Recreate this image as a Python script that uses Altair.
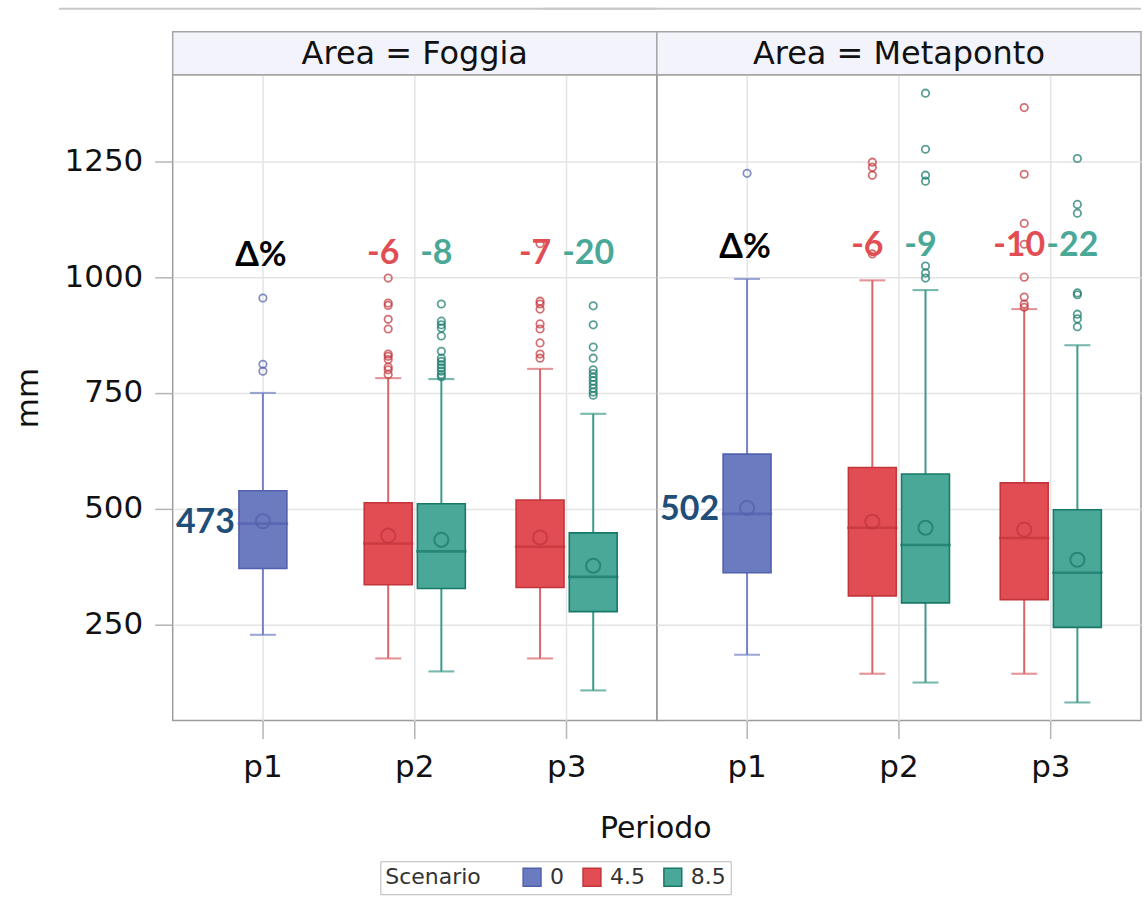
import altair as alt
import pandas as pd

# ---------------- data ----------------
period_order = ["p1", "p2", "p3"]
scenario_order = ["0", "4.5", "8.5"]
offset_order = ["4.5", "0", "8.5"]

box_area = ["Foggia"] * 5 + ["Metaponto"] * 5
box_period = ["p1", "p2", "p2", "p3", "p3"] * 2
box_scen = ["0", "4.5", "8.5", "4.5", "8.5"] * 2
box_lo = [228, 177, 149, 177, 108, 185, 144, 125, 144, 82]
box_q1 = [371, 336, 328, 330, 278, 362, 312, 297, 304, 244]
box_med = [468, 425, 408, 418, 353, 489, 459, 422, 437, 362]
box_mean = [473, 442, 433, 438, 377, 502, 472, 459, 455, 390]
box_q3 = [539, 513, 511, 519, 448, 618, 589, 575, 556, 498]
box_hi = [750, 782, 780, 802, 705, 996, 993, 972, 931, 853]

box_outliers = [
    [955, 812, 797],
    [998, 944, 939, 909, 888, 834, 829, 822, 806, 800, 790],
    [942, 905, 897, 890, 873, 840, 825, 818, 811, 804, 797, 790, 785],
    [1072, 948, 942, 931, 899, 888, 858, 834, 825],
    [938, 897, 849, 825, 800, 792, 784, 776, 768, 760, 752, 745],
    [1224],
    [1248, 1237, 1220, 1050],
    [1397, 1276, 1220, 1207, 1024, 1009, 998],
    [1366, 1222, 1116, 1071, 1000, 957, 942, 935],
    [1256, 1157, 1138, 966, 962, 920, 910, 893],
]

lab_area = ["Foggia"] * 4 + ["Metaponto"] * 4
lab_period = ["p2", "p2", "p3", "p3"] * 2
lab_scen = ["4.5", "8.5", "4.5", "8.5"] * 2
lab_text = ["-6", "-8", "-7", "-20", "-6", "-9", "-10", "-22"]
lab_y = [1050, 1050, 1050, 1050, 1067, 1067, 1067, 1067]

delta_area = ["Foggia", "Metaponto"]
delta_text = ["Δ%", "Δ%"]
delta_y = [1045, 1062]

fill_pal = ["#6a7bbf", "#e24d53", "#4aa898"]
dark_pal = ["#5261ad", "#c2353b", "#17796a"]
light_pal = ["#7383c4", "#d9666a", "#3f9a8b"]

# ---------------- one table for the facet ----------------
rows = []
for i in range(len(box_area)):
    rows.append(dict(kind="box", Area=box_area[i], Periodo=box_period[i], Scenario=box_scen[i],
                     lo=box_lo[i], q1=box_q1[i], med=box_med[i], mean=box_mean[i],
                     q3=box_q3[i], hi=box_hi[i]))
    for v in box_outliers[i]:
        rows.append(dict(kind="out", Area=box_area[i], Periodo=box_period[i],
                         Scenario=box_scen[i], value=v))
for i in range(len(lab_area)):
    rows.append(dict(kind="lab", Area=lab_area[i], Periodo=lab_period[i], Scenario=lab_scen[i],
                     value=lab_y[i], label=lab_text[i]))
for i in range(len(delta_area)):
    rows.append(dict(kind="delta", Area=delta_area[i], Periodo="p1", Scenario="0",
                     value=delta_y[i], label=delta_text[i]))
df = pd.DataFrame(rows)

W, H = 485, 647
ydom = [43, 1437]
FONT = "DejaVu Sans"

x_enc = alt.X("Periodo:N",
              scale=alt.Scale(domain=period_order, paddingInner=0.475, paddingOuter=0.3315),
              axis=alt.Axis(title=None, labelFont=FONT, labelFontSize=31, labelColor="#111111",
                            labelAngle=0, labelPadding=14, tickSize=18, tickColor="#b4b4b4",
                            tickWidth=1.5, domain=False, grid=True, gridColor="#e4e4e4",
                            gridWidth=1.5, bandPosition=0.5))
xo_enc = alt.XOffset("Scenario:N",
                     scale=alt.Scale(domain=offset_order, paddingInner=0, paddingOuter=0))


def yq(field):
    return alt.Y(f"{field}:Q", title="mm",
                 scale=alt.Scale(domain=ydom, nice=False, zero=False),
                 axis=alt.Axis(values=[250, 500, 750, 1000, 1250], format="d",
                               labelFont=FONT,
                               labelFontSize=31, labelColor="#111111", labelPadding=12,
                               tickSize=18, tickColor="#b4b4b4", tickWidth=1.5, domain=False,
                               grid=True, gridColor="#e4e4e4", gridWidth=1.5,
                               titleFont=FONT, titleFontSize=31, titleFontWeight="normal",
                               titleColor="#111111", titlePadding=20))


leg = alt.Legend(title="Scenario", orient="none", legendX=208, legendY=788,
                 direction="horizontal", titleOrient="left")
fill_enc = alt.Fill("Scenario:N", scale=alt.Scale(domain=scenario_order, range=fill_pal),
                    legend=leg)
stroke_enc = alt.Stroke("Scenario:N", scale=alt.Scale(domain=scenario_order, range=dark_pal),
                        legend=leg)
# whisker colours: own scale (listed in another order so it is kept apart from the legend)
light_enc = alt.Color("Scenario:N",
                      scale=alt.Scale(domain=scenario_order[::-1], range=light_pal[::-1]),
                      legend=None)

is_box = alt.datum.kind == "box"
one_per_area = (alt.datum.kind == "box") & (alt.datum.Periodo == "p1")

header_rect = alt.Chart().mark_rect(fill="#f3f4fb", stroke="#a6a6a6", strokeWidth=1.5).encode(
    x=alt.value(0), x2=alt.value(W), y=alt.value(-43), y2=alt.value(0)
).transform_filter(one_per_area)

header_text = alt.Chart().mark_text(font=FONT, fontSize=32, color="#111111",
                                     baseline="middle").encode(
    x=alt.value(W / 2), y=alt.value(-21), text="hdr:N"
).transform_filter(one_per_area).transform_calculate(hdr="'Area = ' + datum.Area")

top_line = alt.Chart().mark_rule(color="#c8c8c8", strokeWidth=2).encode(
    x=alt.value(-114), x2=alt.value(W), y=alt.value(-66)
).transform_filter(one_per_area)

whisk = alt.Chart().mark_rule(strokeWidth=2).encode(
    x=x_enc, xOffset=xo_enc, y=yq("lo"), y2="hi:Q", color=light_enc
).transform_filter(is_box)

cap_lo = alt.Chart().mark_tick(filled=False, thickness=0.1, size=24, strokeWidth=2).encode(
    x=x_enc, xOffset=xo_enc, y=yq("lo"), color=light_enc
).transform_filter(is_box)

cap_hi = alt.Chart().mark_tick(filled=False, thickness=0.1, size=24, strokeWidth=2).encode(
    x=x_enc, xOffset=xo_enc, y=yq("hi"), color=light_enc
).transform_filter(is_box)

boxes = alt.Chart().mark_bar(width=48, strokeWidth=1.6).encode(
    x=x_enc, xOffset=xo_enc, y=yq("q1"), y2="q3:Q", fill=fill_enc, stroke=stroke_enc
).transform_filter(is_box)

median = alt.Chart().mark_tick(filled=False, thickness=0.1, size=48, strokeWidth=2.5).encode(
    x=x_enc, xOffset=xo_enc, y=yq("med"), stroke=stroke_enc
).transform_filter(is_box)

mean = alt.Chart().mark_point(filled=False, size=200, strokeWidth=2).encode(
    x=x_enc, xOffset=xo_enc, y=yq("mean"), stroke=stroke_enc
).transform_filter(is_box)

outl = alt.Chart().mark_point(filled=False, size=55, strokeWidth=1.8).encode(
    x=x_enc, xOffset=xo_enc, y=yq("value"), stroke=stroke_enc
).transform_filter(alt.datum.kind == "out")

labels = alt.Chart().mark_text(font="Lato", fontWeight="bold", fontSize=34, baseline="middle",
                               dx=-5).encode(
    x=x_enc, xOffset=xo_enc, y=yq("value"), text="label:N", fill=fill_enc
).transform_filter(alt.datum.kind == "lab")

delta = alt.Chart().mark_text(font="Lato", fontWeight="bold", fontSize=34, baseline="middle",
                              color="#000000", dx=-2).encode(
    x=x_enc, xOffset=xo_enc, y=yq("value"), text="label:N"
).transform_filter(alt.datum.kind == "delta")

mean_lab = alt.Chart().mark_text(font="Lato", fontWeight="bold", fontSize=34, baseline="middle",
                                 align="right", color="#1f4e79", dx=-28, dy=2).encode(
    x=x_enc, xOffset=xo_enc, y=yq("mean"), text=alt.Text("mean:Q", format="d")
).transform_filter(is_box & (alt.datum.Periodo == "p1"))

panel = alt.layer(top_line, header_rect, header_text, whisk, cap_lo, cap_hi, boxes, median,
                  mean, outl, labels, delta, mean_lab, data=df).properties(width=W, height=H)

chart = panel.facet(
    column=alt.Column("Area:N", sort=["Foggia", "Metaponto"],
                      header=alt.Header(labels=False, title="Periodo", titleOrient="bottom",
                                        titleAlign="left",
                                        titleFont=FONT, titleFontSize=30,
                                        titleFontWeight="normal", titleColor="#111111",
                                        titlePadding=22)),
    spacing=0,
).properties(
    bounds="flush",
    padding={"left": 12, "top": 6, "right": 2, "bottom": 4}
).configure_view(
    stroke="#9c9c9c", strokeWidth=1.5
).configure_legend(
    labelFont=FONT, labelFontSize=22, labelColor="#333333",
    titleFont=FONT, titleFontSize=22, titleFontWeight="normal", titleColor="#333333",
    symbolType="square", symbolSize=320, symbolStrokeWidth=1.5, strokeColor="#b8b8b8",
    padding=5, columnPadding=16, titlePadding=40, labelOffset=7
)

chart.save("out.html", embed_options={"renderer": "svg", "actions": False})
